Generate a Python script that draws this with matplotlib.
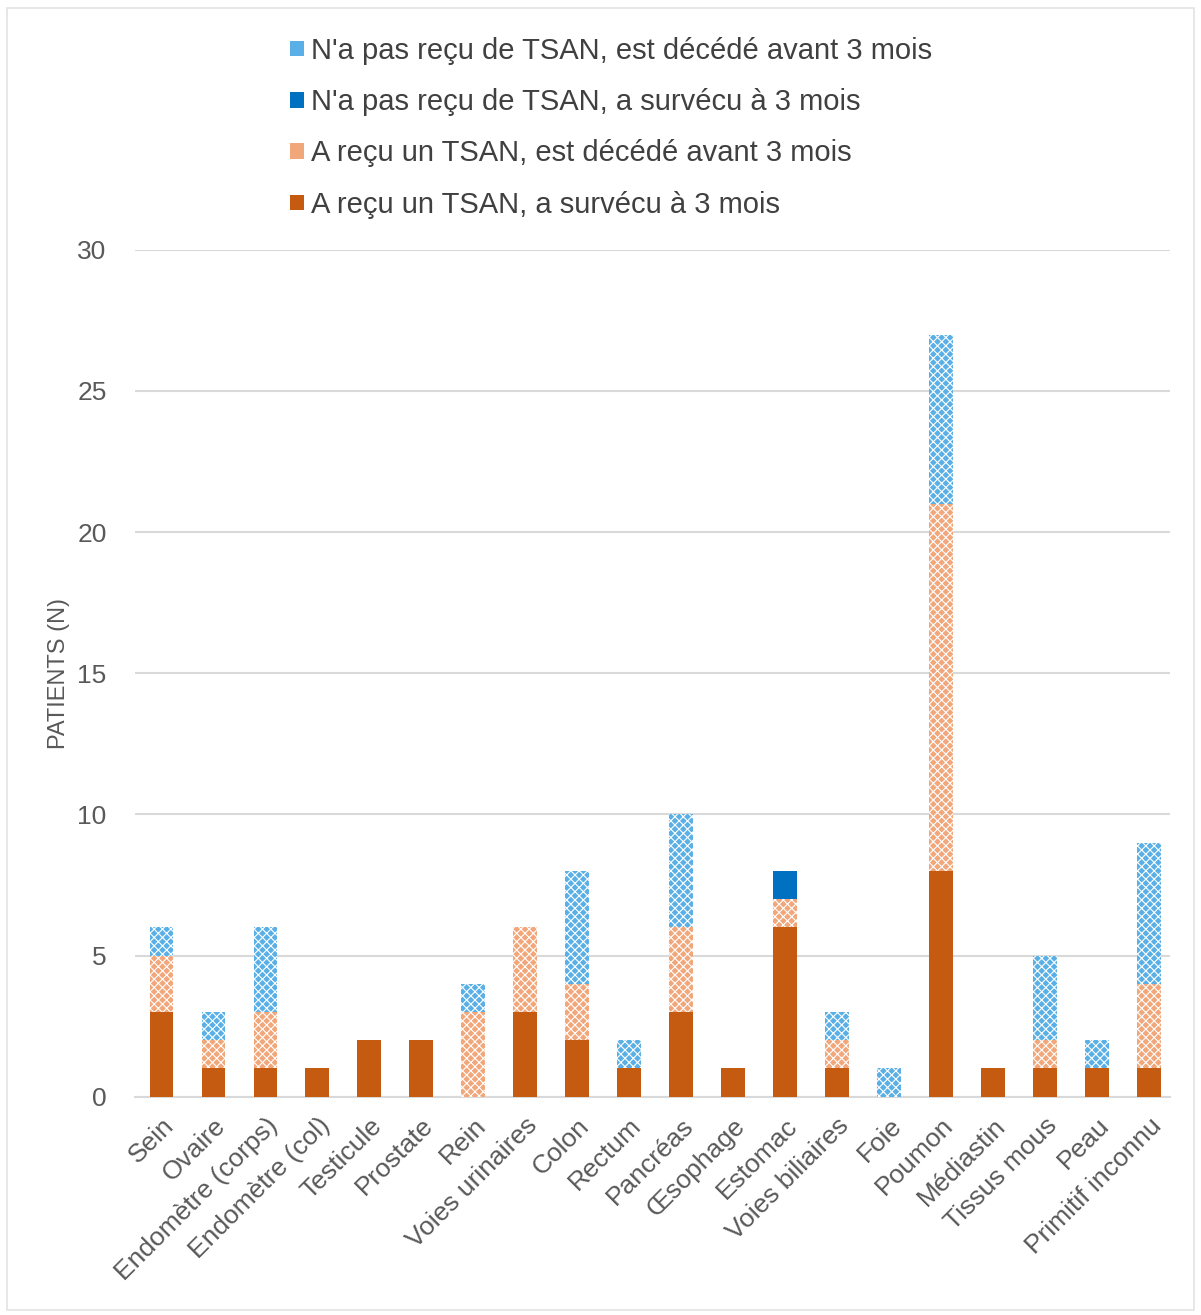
import numpy as np
import matplotlib
matplotlib.use("Agg")
import matplotlib.pyplot as plt
from matplotlib.patches import Patch, Rectangle

plt.rcParams['font.family'] = ['Liberation Sans', 'DejaVu Sans']
plt.rcParams['hatch.linewidth'] = 0.8

localisations = ['Sein', 'Ovaire', 'Endomètre (corps)', 'Endomètre (col)', 'Testicule',
                 'Prostate', 'Rein', 'Voies urinaires', 'Colon', 'Rectum', 'Pancréas',
                 'Œsophage', 'Estomac', 'Voies biliaires', 'Foie', 'Poumon', 'Médiastin',
                 'Tissus mous', 'Peau', 'Primitif inconnu']

# nombre de patients par groupe
tsan_survecu = [3, 1, 1, 1, 2, 2, 0, 3, 2, 1, 3, 1, 6, 1, 0, 8, 1, 1, 1, 1]
tsan_decede = [2, 1, 2, 0, 0, 0, 3, 3, 2, 0, 3, 0, 1, 1, 0, 13, 0, 1, 0, 3]
sans_survecu = [0, 0, 0, 0, 0, 0, 0, 0, 0, 0, 0, 0, 1, 0, 0, 0, 0, 0, 0, 0]
sans_decede = [1, 1, 3, 0, 0, 0, 1, 0, 4, 1, 4, 0, 0, 1, 1, 6, 0, 3, 1, 5]

series = [
    ("A reçu un TSAN, a survécu à 3 mois", tsan_survecu, '#C55A11', None),
    ("A reçu un TSAN, est décédé avant 3 mois", tsan_decede, '#F1A77A', 'xxxx'),
    ("N'a pas reçu de TSAN, a survécu à 3 mois", sans_survecu, '#0070C0', None),
    ("N'a pas reçu de TSAN, est décédé avant 3 mois", sans_decede, '#5AB0E6', 'xxxx'),
]

fig = plt.figure(figsize=(12.01, 13.15), dpi=100)
ax = fig.add_axes([0.112, 0.166, 0.862, 0.644])

# cadre leger autour de l'image
fig.patches.append(Rectangle((0.006, 0.004), 0.988, 0.99, transform=fig.transFigure,
                             fill=False, edgecolor='#E3E3E3', linewidth=1.2))

x = np.arange(len(localisations))
bas = np.zeros(len(localisations))
handles = []
for nom, vals, couleur, hachure in series:
    vals = np.array(vals, dtype=float)
    ax.bar(x, vals, 0.46, bottom=bas, color=couleur, edgecolor='white' if hachure else couleur,
           linewidth=0, hatch=hachure, zorder=3)
    bas += vals
    handles.append(Patch(facecolor=couleur, label=nom))

ax.set_ylim(0, 30)
ax.set_xlim(-0.52, 19.4)
ax.set_yticks(range(0, 31, 5))
ax.yaxis.grid(True, color='#D9D9D9', linewidth=1.5, zorder=0)
for s in ['top', 'right', 'left']:
    ax.spines[s].set_visible(False)
ax.spines['bottom'].set_color('#D9D9D9')
ax.spines['bottom'].set_linewidth(1.5)
ax.tick_params(axis='both', length=0, colors='#595959', labelsize=19)
ax.tick_params(axis='y', pad=20)
ax.tick_params(axis='x', pad=12)
ax.set_xticks(x)
ax.set_xticklabels(localisations, rotation=45, ha='right', rotation_mode='anchor')
ax.set_ylabel('PATIENTS (N)', color='#595959', fontsize=17, labelpad=5)

leg = fig.legend(handles=handles[::-1], loc='upper left', bbox_to_anchor=(0.22, 0.992),
                 frameon=False, fontsize=21, labelcolor='#404040', handlelength=0.45,
                 handleheight=0.45, handletextpad=0.25, labelspacing=0.8)

fig.savefig('out.png', dpi=100)
